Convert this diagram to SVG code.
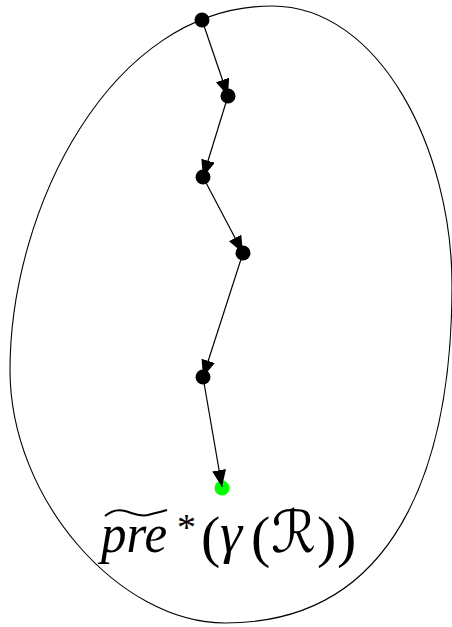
<svg xmlns="http://www.w3.org/2000/svg" width="452" height="627" viewBox="0 0 452 627">
<style>
.node{fill:#000}
.green{fill:#00ff00}
.edge{stroke:#000;stroke-width:1.2;fill:none}
.region{stroke:#000;stroke-width:1.1;fill:none}
.math{font-family:"Liberation Serif","Times New Roman",serif;fill:#000}
</style>
<defs>
<marker id="arr" markerUnits="userSpaceOnUse" markerWidth="18" markerHeight="14" refX="17" refY="7" orient="auto">
<path d="M0,0 L17,7 L0,14 z" fill="#000"/>
</marker>
</defs>
<path class="region" d="M272,6 C380,6 452,150 452,285 C452,440 410,623 225,623 C120,623 10,500 10,370 C10,210 110,6 272,6 Z"/>
<g id="n1"><circle class="node" cx="202" cy="20" r="7.5"/></g>
<g id="n2"><circle class="node" cx="228" cy="96" r="7.5"/></g>
<g id="n3"><circle class="node" cx="203" cy="177" r="7.5"/></g>
<g id="n4"><circle class="node" cx="243" cy="253" r="7.5"/></g>
<g id="n5"><circle class="node" cx="203" cy="377" r="7.5"/></g>
<g id="n6"><circle class="green" cx="222" cy="488" r="7.5"/></g>
<g id="connectors">
<line class="edge" x1="202" y1="20" x2="228" y2="96" marker-end="url(#arr)"/>
<line class="edge" x1="228" y1="96" x2="203" y2="177" marker-end="url(#arr)"/>
<line class="edge" x1="203" y1="177" x2="243" y2="253" marker-end="url(#arr)"/>
<line class="edge" x1="243" y1="253" x2="203" y2="377" marker-end="url(#arr)"/>
<line class="edge" x1="203" y1="377" x2="222" y2="487" marker-end="url(#arr)"/>
</g>
<g id="label">
<path d="M105,516 C112,510 118,509 125,511 C132,513 140,517 148,515 C155,513 161,512 167,510" stroke="#000" stroke-width="2" fill="none"/>
<text class="math" x="101" y="552" font-size="54" font-style="italic" textLength="66" lengthAdjust="spacingAndGlyphs">pre</text>
<text class="math" x="177" y="540" font-size="38">*</text>
<text class="math" x="201" y="556" font-size="58">(</text>
<text class="math" x="220" y="552" font-size="56" font-style="italic">γ</text>
<text class="math" x="251" y="556" font-size="58">(</text>
<text x="271" y="552" font-size="58" font-family="'DejaVu Serif','DejaVu Sans',serif" textLength="45" lengthAdjust="spacingAndGlyphs">ℛ</text>
<text class="math" x="317" y="556" font-size="58">)</text>
<text class="math" x="337" y="556" font-size="58">)</text>
</g>
</svg>
